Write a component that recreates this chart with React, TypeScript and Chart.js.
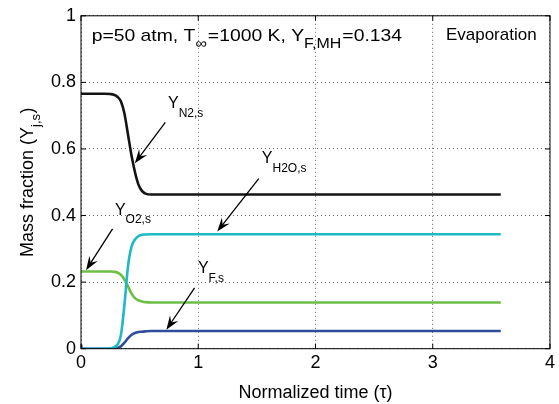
import React, { useEffect, useRef } from "react";
import { Chart, registerables } from "chart.js";

Chart.register(...registerables);

// ---- data ----
const timeTau = [0, 0.01, 0.1, 0.2, 0.25, 0.28, 0.31, 0.34, 0.37, 0.4, 0.43, 0.46, 0.49, 0.52, 0.55, 0.6, 0.7, 0.8, 1.0, 1.5, 2.0, 2.5, 3.0, 3.58];
const yN2 = [0.766, 0.766, 0.766, 0.766, 0.765, 0.763, 0.757, 0.743, 0.707, 0.645, 0.582, 0.531, 0.493, 0.474, 0.466, 0.463, 0.463, 0.463, 0.463, 0.463, 0.463, 0.463, 0.463, 0.463];
const yH2O = [0, 0, 0, 0, 0.001, 0.004, 0.012, 0.04, 0.13, 0.245, 0.305, 0.328, 0.338, 0.342, 0.343, 0.344, 0.344, 0.344, 0.344, 0.344, 0.344, 0.344, 0.344, 0.344];
const yO2 = [0.232, 0.232, 0.232, 0.232, 0.232, 0.231, 0.229, 0.222, 0.208, 0.188, 0.166, 0.152, 0.145, 0.142, 0.14, 0.139, 0.139, 0.139, 0.139, 0.139, 0.139, 0.139, 0.139, 0.139];
const yF = [0.012, 0, 0, 0, 0, 0, 0.002, 0.007, 0.018, 0.031, 0.041, 0.047, 0.05, 0.051, 0.052, 0.053, 0.053, 0.053, 0.053, 0.053, 0.053, 0.053, 0.053, 0.053];

const xTicks = [0, 1, 2, 3, 4];
const yTicks = [0, 0.2, 0.4, 0.6, 0.8, 1];

const seriesNames = ["N2,s", "H2O,s", "O2,s", "F,s"];
const seriesColors = ["#141414", "#1fb9c1", "#6dbe45", "#2f4d9d"];

// annotation labels: label anchor and arrow (tail -> tip), in data units
const labelSubs = ["N2,s", "H2O,s", "O2,s", "F,s"];
const labelX = [0.742, 1.542, 0.289, 0.997];
const labelY = [0.722, 0.557, 0.403, 0.227];
const arrowFromX = [0.719, 1.516, 0.269, 0.969];
const arrowFromY = [0.68, 0.511, 0.36, 0.183];
const arrowToX = [0.459, 1.162, 0.043, 0.728];
const arrowToY = [0.557, 0.352, 0.236, 0.057];

const FONT = "'Liberation Sans', Arial, Helvetica, sans-serif";

type Part = { t: string; sub?: boolean };

function drawRich(ctx: CanvasRenderingContext2D, x: number, y: number, parts: Part[], mainPx: number, subPx: number, subDy: number, gap = 0.5) {
  let cx = x;
  for (const p of parts) {
    ctx.font = `${p.sub ? subPx : mainPx}px ${FONT}`;
    ctx.fillText(p.t, cx, p.sub ? y + subDy : y);
    cx += ctx.measureText(p.t).width + (p.sub ? gap : 0);
  }
  return cx - x;
}

function measureRich(ctx: CanvasRenderingContext2D, parts: Part[], mainPx: number, subPx: number, gap = 0.5) {
  let w = 0;
  for (const p of parts) {
    ctx.font = `${p.sub ? subPx : mainPx}px ${FONT}`;
    w += ctx.measureText(p.t).width + (p.sub ? gap : 0);
  }
  return w;
}

function drawArrow(ctx: CanvasRenderingContext2D, x0: number, y0: number, x1: number, y1: number) {
  const ang = Math.atan2(y1 - y0, x1 - x0);
  const len = 14;
  const hw = 5;
  ctx.save();
  ctx.strokeStyle = "#000";
  ctx.fillStyle = "#000";
  ctx.lineWidth = 1.3;
  ctx.beginPath();
  ctx.moveTo(x0, y0);
  ctx.lineTo(x1 - Math.cos(ang) * 6, y1 - Math.sin(ang) * 6);
  ctx.stroke();
  const bx = x1 - Math.cos(ang) * len;
  const by = y1 - Math.sin(ang) * len;
  const nx = x1 - Math.cos(ang) * len * 0.62;
  const ny = y1 - Math.sin(ang) * len * 0.62;
  const px = -Math.sin(ang) * hw;
  const py = Math.cos(ang) * hw;
  ctx.beginPath();
  ctx.moveTo(x1, y1);
  ctx.lineTo(bx + px, by + py);
  ctx.lineTo(nx, ny);
  ctx.lineTo(bx - px, by - py);
  ctx.closePath();
  ctx.fill();
  ctx.restore();
}

const decorPlugin = {
  id: "decor",
  afterDraw(chart: any) {
    const ctx: CanvasRenderingContext2D = chart.ctx;
    const { left, right, top, bottom } = chart.chartArea;
    const xs = chart.scales.x;
    const ys = chart.scales.y;
    ctx.save();
    // frame
    ctx.strokeStyle = "#000";
    ctx.lineWidth = 1;
    ctx.strokeRect(left, top, right - left, bottom - top);
    // inward ticks
    const tl = 5;
    ctx.beginPath();
    for (const v of xTicks) {
      const px = xs.getPixelForValue(v);
      ctx.moveTo(px, bottom);
      ctx.lineTo(px, bottom - tl);
      ctx.moveTo(px, top);
      ctx.lineTo(px, top + tl);
    }
    for (const v of yTicks) {
      const py = ys.getPixelForValue(v);
      ctx.moveTo(left, py);
      ctx.lineTo(left + tl, py);
      ctx.moveTo(right, py);
      ctx.lineTo(right - tl, py);
    }
    ctx.stroke();

    ctx.fillStyle = "#000";
    ctx.textBaseline = "alphabetic";
    ctx.textAlign = "left";

    // in-plot title (stretched horizontally to span the same width as the reference)
    const titleParts: Part[] = [{ t: "p=50 atm, T" }, { t: "∞", sub: true }, { t: "=1000 K, Y" }, { t: "F,MH", sub: true }, { t: "=0.134" }];
    const tx0 = xs.getPixelForValue(0.091);
    const tx1 = xs.getPixelForValue(2.738);
    const natural = measureRich(ctx, titleParts, 17, 14, 1);
    const sx = (tx1 - tx0) / natural;
    ctx.save();
    ctx.translate(tx0, ys.getPixelForValue(0.925));
    ctx.scale(sx, 1);
    drawRich(ctx, 0, 0, titleParts, 17, 14, 7, 1);
    ctx.restore();

    ctx.font = `17px ${FONT}`;
    ctx.fillText("Evaporation", xs.getPixelForValue(3.112), ys.getPixelForValue(0.926));

    // annotations
    for (let i = 0; i < labelSubs.length; i++) {
      const lx = xs.getPixelForValue(labelX[i]);
      const ly = ys.getPixelForValue(labelY[i]);
      drawRich(ctx, lx, ly, [{ t: "Y" }, { t: labelSubs[i], sub: true }], 16, 12, 8.5);
      drawArrow(
        ctx,
        xs.getPixelForValue(arrowFromX[i]),
        ys.getPixelForValue(arrowFromY[i]),
        xs.getPixelForValue(arrowToX[i]),
        ys.getPixelForValue(arrowToY[i])
      );
    }

    // y-axis title (rotated, with subscript)
    const yParts: Part[] = [{ t: "Mass fraction (Y" }, { t: "j,s", sub: true }, { t: ")" }];
    const w = measureRich(ctx, yParts, 18, 13);
    ctx.translate(left - 48, ys.getPixelForValue(0.5));
    ctx.rotate(-Math.PI / 2);
    drawRich(ctx, -w / 2, 0, yParts, 18, 13, 7);
    ctx.restore();
  },
};

export default function App() {
  const ref = useRef<HTMLCanvasElement | null>(null);
  useEffect(() => {
    if (!ref.current) return;
    const allY = [yN2, yH2O, yO2, yF];
    const chart = new Chart(ref.current, {
      type: "line",
      data: {
        datasets: allY.map((ys, i) => ({
          label: seriesNames[i],
          data: timeTau.map((t, j) => ({ x: t, y: ys[j] })),
          borderColor: seriesColors[i],
          backgroundColor: seriesColors[i],
          borderWidth: 2.6,
          pointRadius: 0,
          cubicInterpolationMode: "monotone" as const,
          fill: false,
        })),
      },
      options: {
        animation: false,
        responsive: false,
        devicePixelRatio: 1,
        layout: { padding: { top: 10, right: 7.5, left: 0, bottom: 0 } },
        plugins: { legend: { display: false }, tooltip: { enabled: false } },
        scales: {
          x: {
            type: "linear",
            min: 0,
            max: 4,
            afterBuildTicks: (s: any) => {
              s.ticks = xTicks.map((v) => ({ value: v }));
            },
            ticks: {
              font: { size: 18, family: FONT },
              color: "#000",
              padding: 4,
              maxRotation: 0,
              callback: (v: any) => String(v),
            },
            grid: { color: "#666", lineWidth: 1, drawTicks: false },
            border: { display: false, dash: [1, 3] },
            title: {
              display: true,
              text: "Normalized time (τ)",
              font: { size: 18, family: FONT },
              color: "#000",
              padding: { top: 2, bottom: 0 },
            },
            afterFit: (s: any) => {
              s.height = 55.3;
            },
          },
          y: {
            type: "linear",
            min: 0,
            max: 1,
            afterBuildTicks: (s: any) => {
              s.ticks = yTicks.map((v) => ({ value: v }));
            },
            ticks: {
              font: { size: 18, family: FONT },
              color: "#000",
              padding: 5,
              callback: (v: any) => String(Math.round(Number(v) * 10) / 10),
            },
            grid: { color: "#666", lineWidth: 1, drawTicks: false },
            border: { display: false, dash: [1, 3] },
            afterFit: (s: any) => {
              s.width = 81;
            },
          },
        },
      },
      plugins: [decorPlugin],
    } as any);
    return () => chart.destroy();
  }, []);
  return (
    <div style={{ position: "absolute", left: 0, top: 0, width: 559, height: 404, background: "#fff" }}>
      <canvas ref={ref} width={559} height={404} style={{ display: "block" }} />
    </div>
  );
}
